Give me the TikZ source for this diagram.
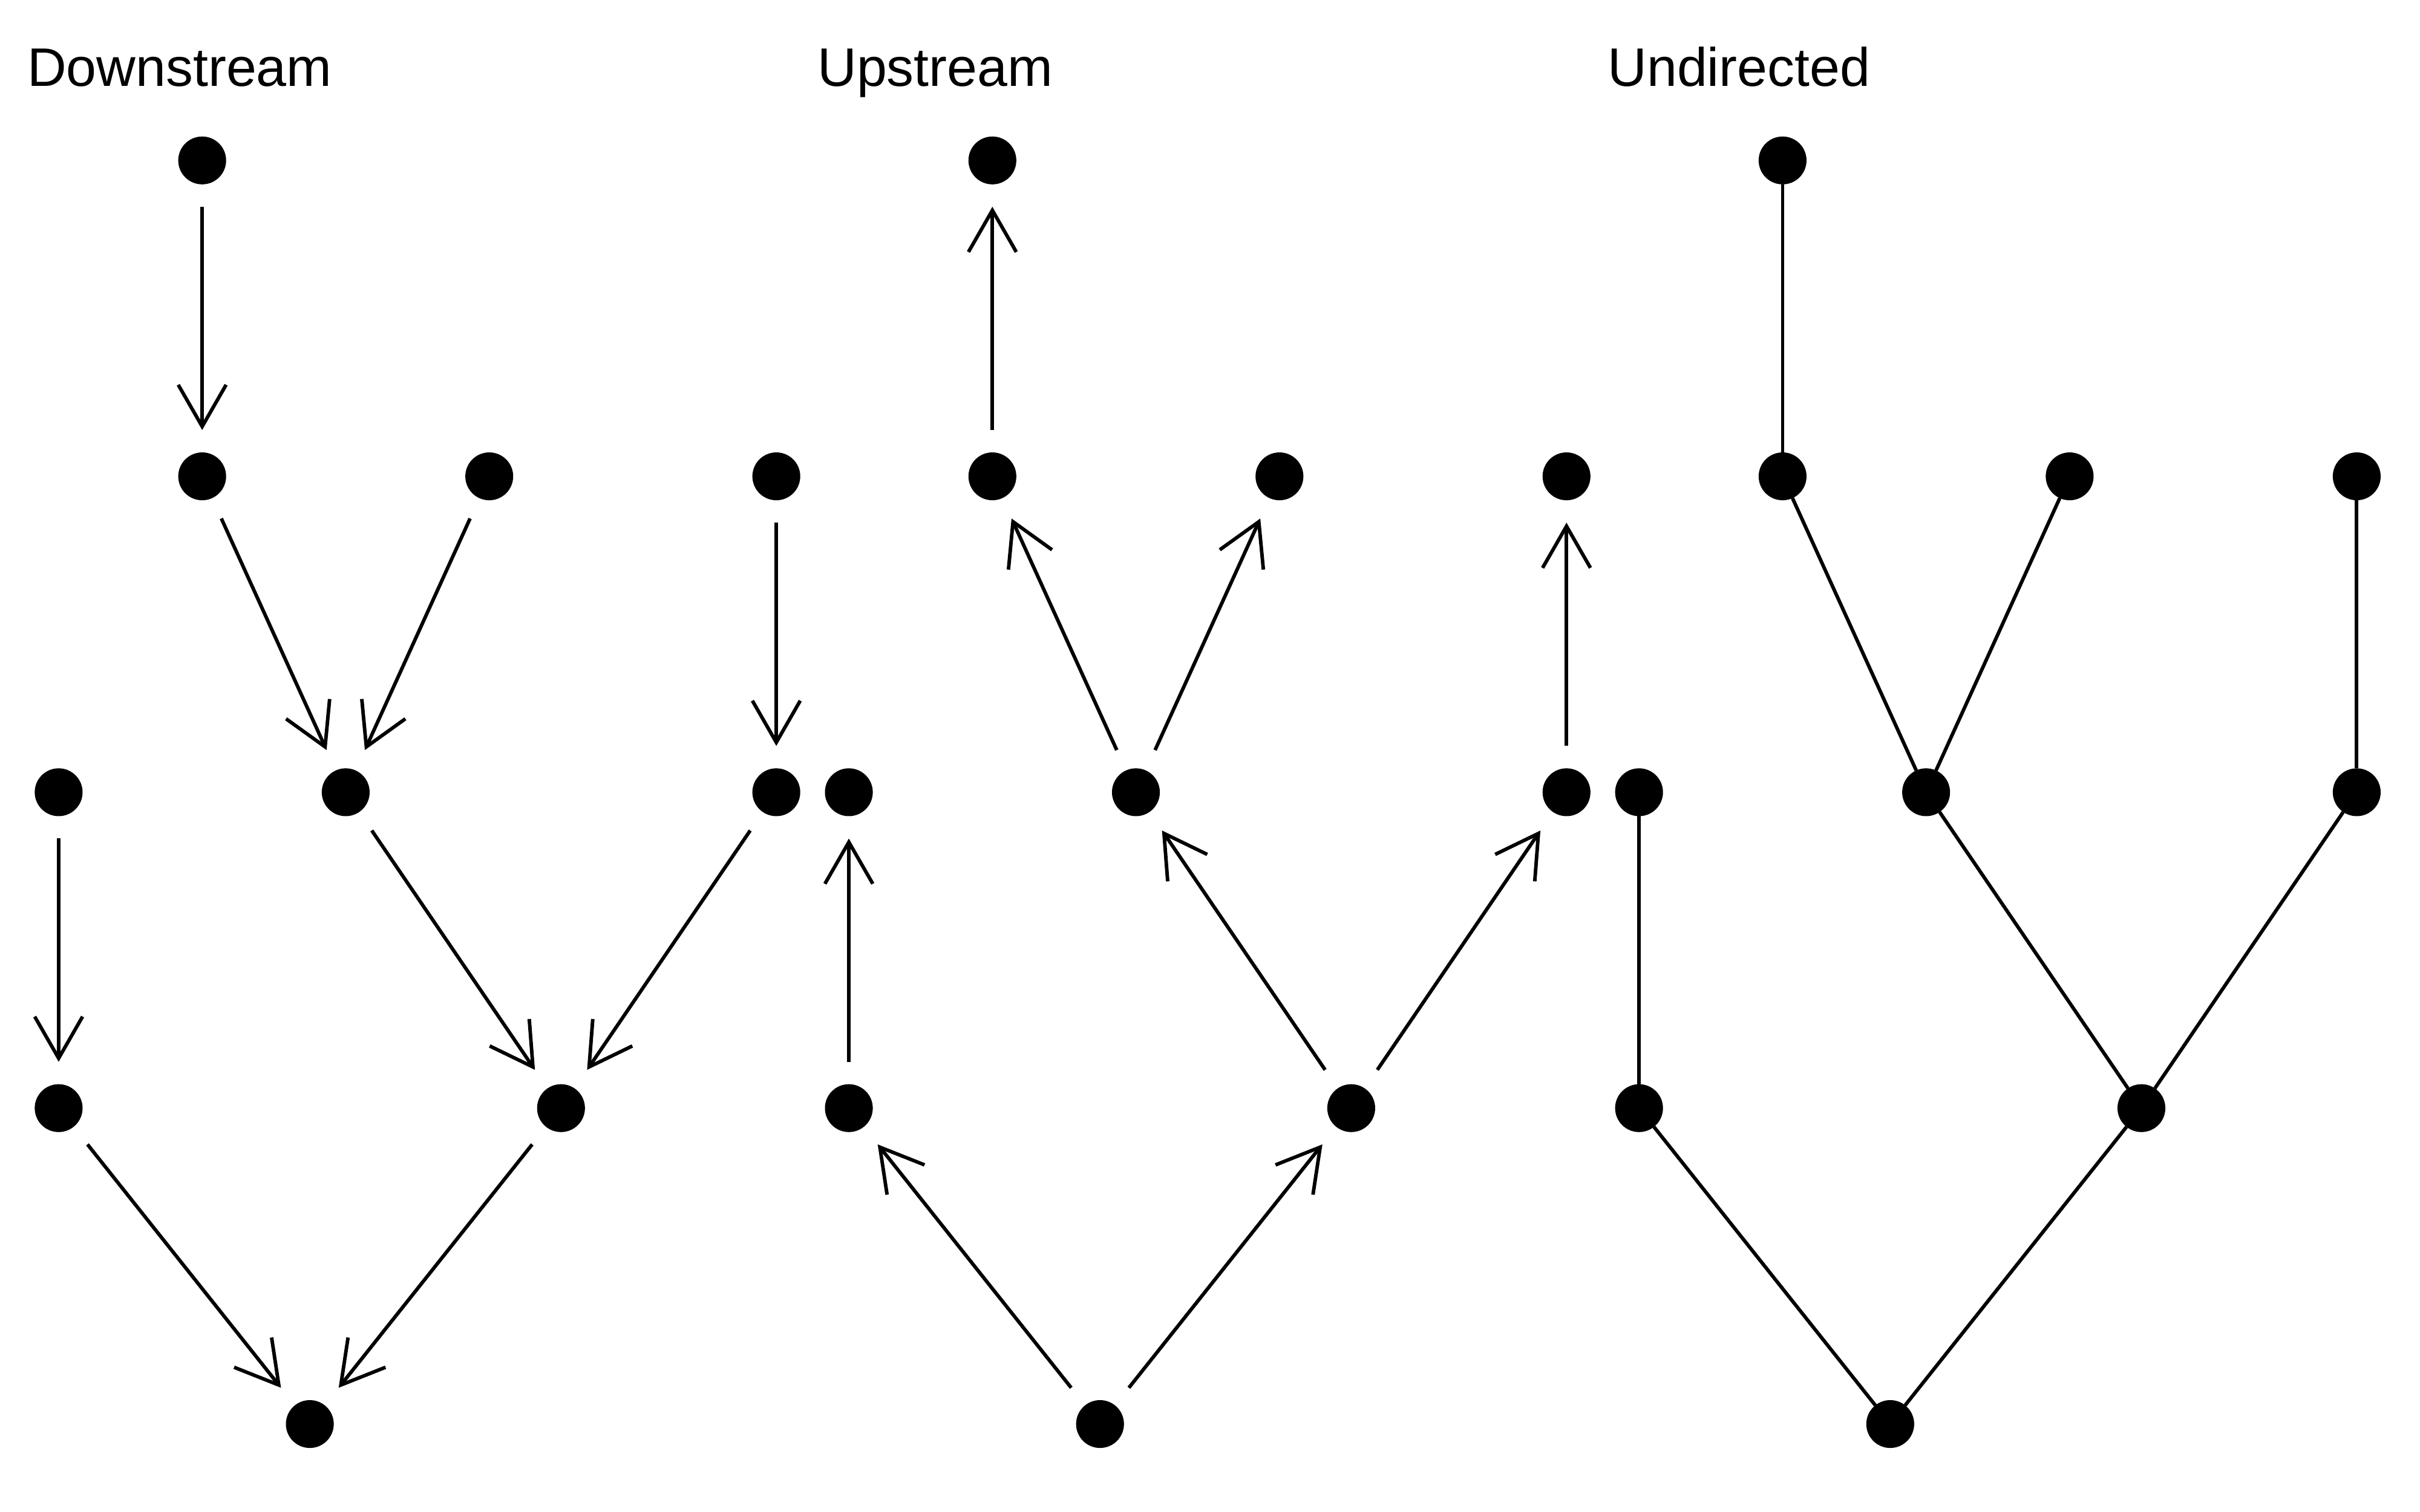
\documentclass[tikz,border=0pt]{standalone}
\usepackage{fontspec}
\setmainfont{Liberation Sans}
\usetikzlibrary{arrows.meta}

\begin{document}
\begin{tikzpicture}[x=0.01cm, y=-0.01cm,
    dot/.style={circle, fill=black, inner sep=0pt, outer sep=0pt, minimum size=0.31cm},
    arc/.style={line width=0.65pt, -{Straight Barb[length=0.27cm, width=0.31cm]},
                shorten >=0.145cm, shorten <=0.145cm},
    link/.style={line width=0.65pt},
    title/.style={anchor=base west, inner sep=0pt, font=\fontsize{10pt}{12pt}\selectfont}]

    % Canvas
    \useasboundingbox (0,0) rectangle (1568,980);

    % Grid spacing
    \def\colStep{46.5}     % half column width
    \def\rowStep{204.75}   % row height
    \def\panelShift{512}   % shift between panels

    % Panels: titles and vertices
    \foreach \p/\name/\off in {d/Downstream/0, u/Upstream/\panelShift, n/Undirected/2*\panelShift} {
        \node[title] (\p title) at (17+\off, 56) {\name};
        \foreach \i/\k/\r in {1/2/0, 2/2/1, 3/6/1, 4/10/1, 5/0/2, 6/4/2, 7/10/2, 8/0/3, 9/7/3, 10/3.5/4} {
            \node[dot] (\p\i) at (38+\off+\k*\colStep, 104+\r*\rowStep) {};
        }
    }

    % Downstream edges (parent to child)
    \foreach \a/\b in {1/2, 2/6, 3/6, 4/7, 5/8, 6/9, 7/9, 8/10, 9/10} {
        \draw[arc] (d\a) -- (d\b);
    }

    % Upstream edges (child to parent)
    \foreach \a/\b in {1/2, 2/6, 3/6, 4/7, 5/8, 6/9, 7/9, 8/10, 9/10} {
        \draw[arc] (u\b) -- (u\a);
    }

    % Undirected edges
    \foreach \a/\b in {1/2, 2/6, 3/6, 4/7, 5/8, 6/9, 7/9, 8/10, 9/10} {
        \draw[link] (n\a) -- (n\b);
    }

\end{tikzpicture}
\end{document}
